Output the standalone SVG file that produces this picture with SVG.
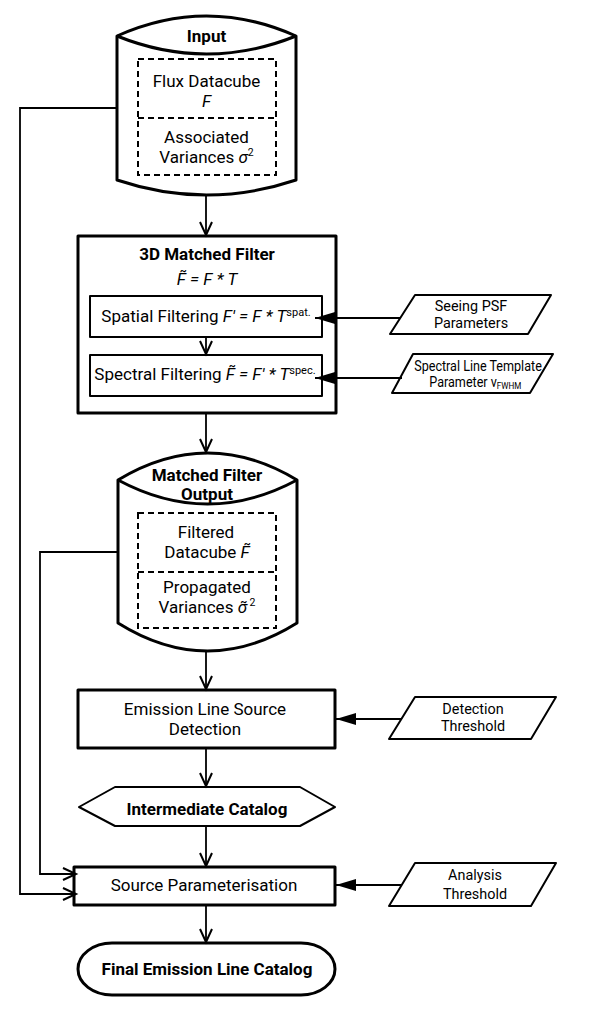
<svg xmlns="http://www.w3.org/2000/svg" width="592" height="1013" viewBox="0 0 592 1013">
<defs>
<style>
.t{font-family:Roboto,"Liberation Sans",sans-serif;font-size:17px;fill:#000;text-anchor:middle}
.b{font-weight:bold}
.i{font-style:italic}
.c{font-family:Roboto,"Liberation Sans",sans-serif;font-size:15px;fill:#000;text-anchor:middle}
.cs{font-family:Roboto,"Liberation Sans",sans-serif;font-size:14px;fill:#000;text-anchor:middle}
.thick{fill:#fff;stroke:#000;stroke-width:3;stroke-linejoin:round}
.thin{fill:#fff;stroke:#000;stroke-width:2;stroke-linejoin:round}
.dash{fill:none;stroke:#000;stroke-width:2;stroke-dasharray:6,4}
.con{fill:none;stroke:#000;stroke-width:1.8}
</style>
<marker id="open" markerUnits="userSpaceOnUse" markerWidth="16" markerHeight="16" viewBox="0 0 16 16" refX="14" refY="8" orient="auto" overflow="visible">
<path d="M1,2 L14,8 L1,14" fill="none" stroke="#000" stroke-width="2"/>
</marker>
<marker id="tri" markerUnits="userSpaceOnUse" markerWidth="20" markerHeight="12" viewBox="0 0 20 12" refX="20" refY="6" orient="auto" overflow="visible">
<path d="M0,0 L20,6 L0,12 Z" fill="#000" stroke="none"/>
</marker>
</defs>
<rect width="592" height="1013" fill="#fff"/>

<g id="input">
<path class="thick" d="M117,36 Q206.5,-4 296,36 L296,180 Q206.5,210 117,180 Z"/>
<path class="thick" fill="none" d="M117,36 Q206.5,72 296,36"/>
<rect class="dash" x="138" y="59" width="138" height="116"/>
<line class="dash" x1="138" y1="118" x2="276" y2="118"/>
<text class="t b" x="206.5" y="42">Input</text>
<text class="t" x="206.5" y="87">Flux Datacube</text>
<text class="t i" x="206.5" y="107">F</text>
<text class="t" x="206.5" y="143">Associated</text>
<text class="t" x="206.5" y="163">Variances <tspan class="i">σ</tspan><tspan font-size="10.5" dy="-7">2</tspan></text>
</g>

<g id="matched-filter">
<rect class="thick" x="78" y="236" width="258" height="177"/>
<text class="t b" x="207" y="260">3D Matched Filter</text>
<text class="t i" x="207" y="285">F̃ = F * T</text>
</g>

<g id="spatial-filtering">
<rect class="thin" x="90" y="296" width="232" height="41"/>
<text class="t" x="206" y="322">Spatial Filtering <tspan class="i">F′ = F * T</tspan><tspan font-size="11" dy="-6">spat.</tspan></text>
</g>

<g id="spectral-filtering">
<rect class="thin" x="90" y="355" width="232" height="41"/>
<text class="t" x="205" y="380">Spectral Filtering <tspan class="i">F̃ = F′ * T</tspan><tspan font-size="11" dy="-6">spec.</tspan></text>
</g>

<g id="seeing-psf">
<polygon class="thin" points="415,295 551,295 528,334 390,334"/>
<g transform="translate(471,0) scale(0.96,1)">
<text class="c" x="0" y="311.5">Seeing PSF<tspan x="0" dy="17">Parameters</tspan></text>
</g>
</g>

<g id="spectral-template">
<polygon class="thin" points="413,354 553,354 530,393 392,393"/>
<g transform="translate(478,0) scale(0.9,1)">
<text class="cs" x="0" y="371">Spectral Line Template<tspan x="-3" dy="16">Parameter ν</tspan><tspan font-size="9" dy="2">FWHM</tspan></text>
</g>
</g>

<g id="matched-filter-output">
<path class="thick" d="M118,480 Q207.5,426 297,480 L297,623 Q207.5,679 118,623 Z"/>
<path class="thick" fill="none" d="M118,480 Q207.5,528 297,480"/>
<rect class="dash" x="138" y="513" width="138" height="115"/>
<line class="dash" x1="138" y1="572" x2="276" y2="572"/>
<text class="t b" x="207" y="481">Matched Filter</text>
<text class="t b" x="207" y="500">Output</text>
<text class="t" x="206" y="538">Filtered</text>
<text class="t" x="207" y="558">Datacube <tspan class="i">F̃</tspan></text>
<text class="t" x="207" y="593">Propagated</text>
<text class="t" x="207" y="613">Variances <tspan class="i">σ̃</tspan><tspan font-size="10.5" dy="-7"> 2</tspan></text>
</g>

<g id="detection">
<rect class="thick" x="78" y="690" width="257" height="58"/>
<text class="t" x="205" y="715">Emission Line Source</text>
<text class="t" x="205" y="735">Detection</text>
</g>

<g id="detection-threshold">
<polygon class="thin" points="415,697 556,697 531,739 389,739"/>
<g transform="translate(473,0) scale(0.96,1)">
<text class="c" x="0" y="714">Detection<tspan x="0" dy="17.5">Threshold</tspan></text>
</g>
</g>

<g id="intermediate-catalog">
<polygon class="thin" stroke-width="2.5" points="79,807 115,787 300,787 335,807 300,826 115,826"/>
<text class="t b" x="207" y="815">Intermediate Catalog</text>
</g>

<g id="source-parameterisation">
<rect class="thick" x="74" y="867" width="261" height="38"/>
<text class="t" x="204" y="891">Source Parameterisation</text>
</g>

<g id="analysis-threshold">
<polygon class="thin" points="415,863 556,863 531,906 389,906"/>
<g transform="translate(475,0) scale(0.96,1)">
<text class="c" x="0" y="880">Analysis<tspan x="0" dy="19">Threshold</tspan></text>
</g>
</g>

<g id="final-catalog">
<rect class="thick" x="78" y="943" width="257" height="52" rx="34" ry="26"/>
<text class="t b" x="207" y="975">Final Emission Line Catalog</text>
</g>

<g id="connectors">
<path class="con" d="M206,195 L206,235" marker-end="url(#open)"/>
<path class="con" d="M206,337 L206,354" marker-end="url(#open)"/>
<path class="con" d="M206,413 L206,452" marker-end="url(#open)"/>
<path class="con" d="M206,651 L206,689" marker-end="url(#open)"/>
<path class="con" d="M206,748 L206,786" marker-end="url(#open)"/>
<path class="con" d="M206,826 L206,866" marker-end="url(#open)"/>
<path class="con" d="M206,905 L206,942" marker-end="url(#open)"/>
<path class="con" d="M117,108 L20,108 L20,894 L76,894" marker-end="url(#open)"/>
<path class="con" d="M118,552 L40,552 L40,874 L76,874" marker-end="url(#open)"/>
<path class="con" d="M400,318 L315,318" marker-end="url(#tri)"/>
<path class="con" d="M402,378 L315,378" marker-end="url(#tri)"/>
<path class="con" d="M402,719 L336,719" marker-end="url(#tri)"/>
<path class="con" d="M402,885 L336,885" marker-end="url(#tri)"/>
</g>
</svg>
